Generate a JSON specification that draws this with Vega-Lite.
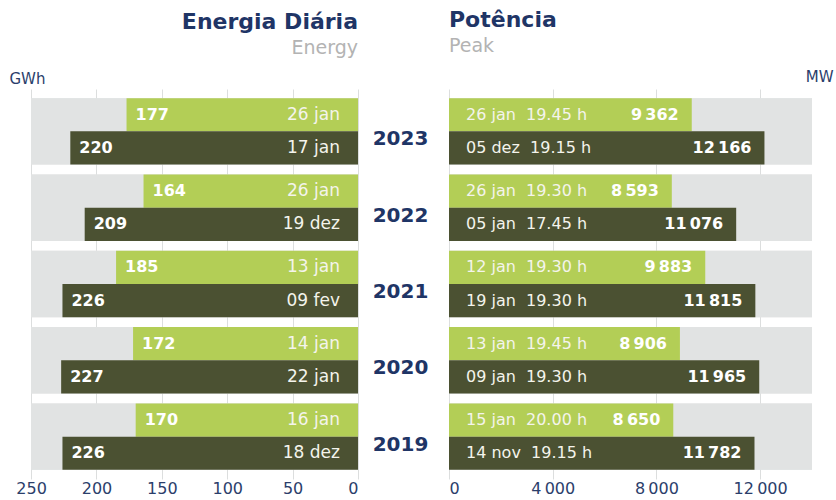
{
  "$schema": "https://vega.github.io/schema/vega-lite/v6.json",
  "padding": {"left": 9, "top": 9, "right": 3, "bottom": 0},
  "bounds": "flush",
  "spacing": 91,
  "data": {"values": [
    {"year": 2023, "serie": "a", "energia": 177, "energia_data": "26 jan", "potencia": 9362, "potencia_data": "26 jan\u00a0 19.45 h"},
    {"year": 2023, "serie": "b", "energia": 220, "energia_data": "17 jan", "potencia": 12166, "potencia_data": "05 dez\u00a0 19.15 h"},
    {"year": 2022, "serie": "a", "energia": 164, "energia_data": "26 jan", "potencia": 8593, "potencia_data": "26 jan\u00a0 19.30 h"},
    {"year": 2022, "serie": "b", "energia": 209, "energia_data": "19 dez", "potencia": 11076, "potencia_data": "05 jan\u00a0 17.45 h"},
    {"year": 2021, "serie": "a", "energia": 185, "energia_data": "13 jan", "potencia": 9883, "potencia_data": "12 jan\u00a0 19.30 h"},
    {"year": 2021, "serie": "b", "energia": 226, "energia_data": "09 fev", "potencia": 11815, "potencia_data": "19 jan\u00a0 19.30 h"},
    {"year": 2020, "serie": "a", "energia": 172, "energia_data": "14 jan", "potencia": 8906, "potencia_data": "13 jan\u00a0 19.45 h"},
    {"year": 2020, "serie": "b", "energia": 227, "energia_data": "22 jan", "potencia": 11965, "potencia_data": "09 jan\u00a0 19.30 h"},
    {"year": 2019, "serie": "a", "energia": 170, "energia_data": "16 jan", "potencia": 8650, "potencia_data": "15 jan\u00a0 20.00 h"},
    {"year": 2019, "serie": "b", "energia": 226, "energia_data": "18 dez", "potencia": 11782, "potencia_data": "14 nov\u00a0 19.15 h"}
  ]},
  "hconcat": [
    {
      "width": 340,
      "height": 390,
      "title": {"text": "Energia Diária", "subtitle": "Energy", "anchor": "end", "offset": 12},
      "encoding": {
        "y": {"field": "year", "type": "ordinal", "sort": "descending", "scale": {"paddingInner": 0.13, "paddingOuter": 0.12}, "axis": null}
      },
      "layer": [
        {
          "mark": {"type": "bar", "color": "#e1e3e3"},
          "encoding": {
            "x": {"datum": 250, "type": "quantitative", "scale": {"domain": [0, 250], "reverse": true},
              "axis": {"values": [0, 50, 100, 150, 200, 250], "grid": true, "title": "GWh", "titleX": -9, "titleY": -401, "titleAlign": "left", "titleBaseline": "middle", "titleAnchor": null}}
          }
        },
        {
          "mark": {"type": "bar"},
          "encoding": {
            "x": {"field": "energia", "type": "quantitative"},
            "yOffset": {"field": "serie", "type": "nominal", "scale": {"paddingInner": 0, "paddingOuter": 0}},
            "color": {"field": "serie", "type": "nominal", "scale": {"range": ["#b3ce56", "#4b5132"]}, "legend": null}
          }
        },
        {
          "mark": {"type": "text", "align": "left", "dx": 9, "baseline": "middle", "fontWeight": "bold", "fontSize": 16, "color": "white"},
          "encoding": {
            "x": {"field": "energia", "type": "quantitative"},
            "yOffset": {"field": "serie", "type": "nominal"},
            "text": {"field": "energia", "type": "quantitative", "format": ",d"}
          }
        },
        {
          "mark": {"type": "text", "align": "right", "dx": -18, "baseline": "middle", "fontSize": 17, "color": "#f4f4ec"},
          "encoding": {
            "x": {"datum": 0, "type": "quantitative"},
            "yOffset": {"field": "serie", "type": "nominal"},
            "text": {"field": "energia_data", "type": "nominal"}
          }
        }
      ]
    },
    {
      "width": 363,
      "height": 390,
      "title": {"text": "Potência", "subtitle": "Peak", "anchor": "start", "offset": 12},
      "encoding": {
        "y": {"field": "year", "type": "ordinal", "sort": "descending", "scale": {"paddingInner": 0.13, "paddingOuter": 0.12},
          "axis": {"orient": "left", "title": null, "domain": false, "ticks": false, "grid": false, "labelPadding": 49, "labelAlign": "center", "labelBaseline": "middle", "labelOffset": 8, "labelFontSize": 20, "labelFontWeight": "bold", "labelColor": "#1f3566"}}
      },
      "layer": [
        {
          "mark": {"type": "bar", "color": "#e1e3e3"},
          "encoding": {
            "x": {"datum": 14000, "type": "quantitative", "scale": {"domain": [0, 14000]},
              "axis": {"values": [0, 4000, 8000, 12000], "format": ",d", "grid": true, "title": "MW", "titleX": 384, "titleY": -403, "titleAlign": "right", "titleBaseline": "middle", "titleAnchor": null}}
          }
        },
        {
          "mark": {"type": "bar"},
          "encoding": {
            "x": {"field": "potencia", "type": "quantitative"},
            "yOffset": {"field": "serie", "type": "nominal", "scale": {"paddingInner": 0, "paddingOuter": 0}},
            "color": {"field": "serie", "type": "nominal", "scale": {"range": ["#b3ce56", "#4b5132"]}, "legend": null}
          }
        },
        {
          "mark": {"type": "text", "align": "right", "dx": -13, "baseline": "middle", "fontWeight": "bold", "fontSize": 16, "color": "white"},
          "encoding": {
            "x": {"field": "potencia", "type": "quantitative"},
            "yOffset": {"field": "serie", "type": "nominal"},
            "text": {"field": "potencia", "type": "quantitative", "format": ",d"}
          }
        },
        {
          "mark": {"type": "text", "align": "left", "dx": 17, "baseline": "middle", "fontSize": 16, "color": "#f4f4ec"},
          "encoding": {
            "x": {"datum": 0, "type": "quantitative"},
            "yOffset": {"field": "serie", "type": "nominal"},
            "text": {"field": "potencia_data", "type": "nominal"}
          }
        }
      ]
    }
  ],
  "config": {
    "font": "DejaVu Sans",
    "locale": {"number": {"decimal": ",", "thousands": "\u2009", "grouping": [3], "currency": ["", " €"]}},
    "view": {"stroke": null},
    "title": {"fontSize": 22, "fontWeight": "bold", "color": "#1f3566", "subtitleFontSize": 19, "subtitleColor": "#b3b3b3", "subtitlePadding": 5, "frame": "group"},
    "axis": {"domain": false, "ticks": false, "labelFontSize": 16, "labelColor": "#2b3e6b", "gridColor": "#dcdede", "labelPadding": 1, "titleFontSize": 15, "titleFontWeight": "normal", "titleColor": "#2b3e6b"},
    "axisX": {"labelAngle": 0}
  }
}
